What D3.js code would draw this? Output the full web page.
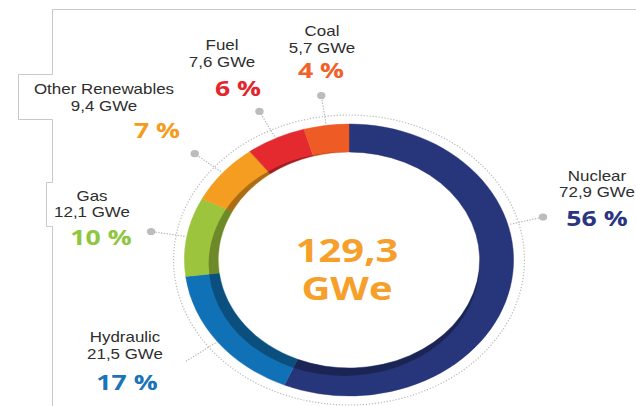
<!DOCTYPE html>
<html lang="en">
<head>
<meta charset="UTF-8">
<title>Installed capacity</title>
<script src="https://d3js.org/d3.v7.min.js"></script>
<style>
  body { margin: 0; background: #fff; }
  svg { display: block; }
  .name { font-family: "Liberation Sans", Arial, sans-serif; font-size: 14px; fill: #2e2e2e; }
  .pct { font-family: "Open Sans", sans-serif; font-weight: 700; font-size: 22px; }
  .total { font-family: "Open Sans", sans-serif; font-weight: 700; font-size: 33px; fill: #f6a02b; }
</style>
</head>
<body>
<div id="chart"></div>
<script>
// data
const categories = ["Nuclear", "Hydraulic", "Gas", "Other Renewables", "Fuel", "Coal"];
const valuesGWe = [72.9, 21.5, 12.1, 9.4, 7.6, 5.7];
const percentLabels = ["56 %", "17 %", "10 %", "7 %", "6 %", "4 %"];
const totalLabel = ["129,3", "GWe"];

const colors = ["#27357a", "#1071b7", "#9cc53d", "#f49d20", "#e42a2f", "#ef5b25"];
const pctColors = ["#2b3682", "#1a74ba", "#8dc63f", "#f39c20", "#e4262c", "#f0622a"];

// label placement (layout only)
const layout = [
  { x: 597, nameY: 181, valY: 197, pctX: 597, pctY: 226, leader: 75, dot: true },
  { x: 125, nameY: 342, valY: 359, pctX: 127, pctY: 390, dot: false },
  { x: 92,  nameY: 201, valY: 217, pctX: 101, pctY: 245, dot: true },
  { x: 104, nameY: 94,  valY: 111, pctX: 157, pctY: 138, dot: true },
  { x: 222, nameY: 50,  valY: 67,  pctX: 238, pctY: 96,  dot: true },
  { x: 322, nameY: 36,  valY: 53,  pctX: 321, pctY: 78,  dot: true }
];

const width = 636, height = 406;
const cx = 349, cy = 260, sx = 1.21;     // the picture is stretched horizontally
const rIn = 108, rOut = 136, rDots = 145;

const svg = d3.select("#chart").append("svg")
  .attr("width", width).attr("height", height);

// frame lines
svg.append("path")
  .attr("d", "M636,9.5H52.5V74.5H18.5V119.5H52.5V182.5H46.5V226.5H52.5V406")
  .attr("fill", "none").attr("stroke", "#c9c9c9").attr("stroke-width", 1);

const pie = d3.pie().sort(null).value(d => d)(valuesGWe);
const arc = d3.arc().innerRadius(rIn).outerRadius(rOut);

const defs = svg.append("defs");
defs.append("clipPath").attr("id", "ringClip")
  .append("path")
  .attr("d", d3.arc().innerRadius(rIn).outerRadius(rOut)({ startAngle: 0, endAngle: 2 * Math.PI }));

const ring = svg.append("g").attr("transform", `translate(${cx},${cy}) scale(${sx},1)`);

ring.selectAll("path.seg")
  .data(pie)
  .join("path")
  .attr("class", "seg")
  .attr("d", arc)
  .attr("fill", (d, i) => colors[i])
  .attr("stroke", (d, i) => colors[i])
  .attr("stroke-width", 0.4);

// inner shading on the lower-left part of the ring
ring.append("g").attr("clip-path", "url(#ringClip)")
  .append("circle")
  .attr("cx", -4).attr("cy", 4).attr("r", rIn + 4)
  .attr("fill", "#000").attr("opacity", 0.3);

// dotted outer circle
svg.append("ellipse")
  .attr("cx", cx).attr("cy", cy)
  .attr("rx", rDots * sx).attr("ry", rDots)
  .attr("fill", "none").attr("stroke", "#bdbdbd")
  .attr("stroke-width", 1.2).attr("stroke-dasharray", "1.3,1.7");

function pt(angleRad, r) {
  return [cx + sx * r * Math.sin(angleRad), cy - r * Math.cos(angleRad)];
}

const fmt = d3.format(".1f");

pie.forEach((d, i) => {
  const L = layout[i];
  const a = L.leader !== undefined ? L.leader * Math.PI / 180 : (d.startAngle + d.endAngle) / 2;
  const p0 = pt(a, 138), p1 = pt(a, L.dot ? 166 : 170);
  svg.append("line")
    .attr("x1", p0[0]).attr("y1", p0[1]).attr("x2", p1[0]).attr("y2", p1[1])
    .attr("stroke", "#b5b5b5").attr("stroke-width", 1.2).attr("stroke-dasharray", "1.3,1.5");
  if (L.dot) {
    svg.append("ellipse")
      .attr("cx", p1[0]).attr("cy", p1[1]).attr("rx", 4.2).attr("ry", 3.6)
      .attr("fill", "#bcbcbc");
  }

  const txt = (str, x, y, cls, fill) => {
    const t = svg.append("text")
      .attr("class", cls)
      .attr("text-anchor", "middle")
      .attr("transform", `translate(${x},${y}) scale(${sx},1)`)
      .text(str);
    if (fill) t.attr("fill", fill);
  };
  txt(categories[i], L.x, L.nameY, "name");
  txt(fmt(valuesGWe[i]).replace(".", ",") + " GWe", L.x, L.valY, "name");
  txt(percentLabels[i], L.pctX, L.pctY, "pct", pctColors[i]);
});

// total in the middle, one text block with two lines
const total = svg.append("text")
  .attr("class", "total")
  .attr("text-anchor", "middle")
  .attr("transform", `translate(${cx - 2},262) scale(${sx},1)`);
total.selectAll("tspan")
  .data(totalLabel)
  .join("tspan")
  .attr("x", 0)
  .attr("y", (d, i) => i * 38)
  .text(d => d);
</script>
</body>
</html>
